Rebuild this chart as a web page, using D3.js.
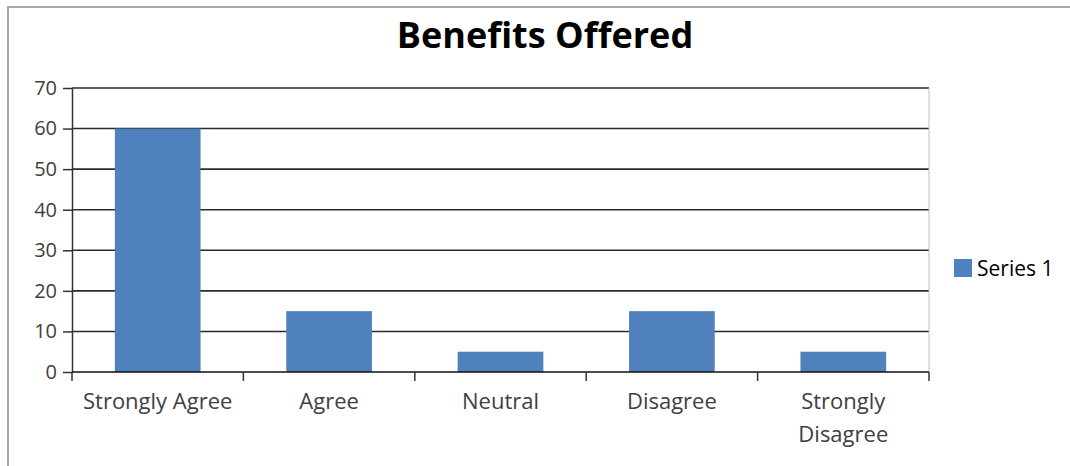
<!DOCTYPE html>
<html>
<head>
<meta charset="utf-8">
<script src="https://cdn.jsdelivr.net/npm/d3@7"></script>
<style>
  html, body { margin: 0; padding: 0; background: #fff; }
  svg { display: block; }
  text { font-family: "Open Sans", "Noto Sans", sans-serif; }
</style>
</head>
<body>
<svg id="chart" width="1070" height="466"></svg>
<script>
const title = "Benefits Offered";
const categories = ["Strongly Agree", "Agree", "Neutral", "Disagree", "Strongly Disagree"];
const seriesName = "Series 1";
const values = [60, 15, 5, 15, 5];
const yTicks = [0, 10, 20, 30, 40, 50, 60, 70];

const W = 1070, H = 466;
const margin = { left: 72, top: 88, right: 141, bottom: 94 };
const innerW = W - margin.left - margin.right;
const innerH = H - margin.top - margin.bottom;
const barColor = "#4F81BD";
const textColor = "#404040";

const svg = d3.select("#chart");

// outer frame
svg.append("path")
  .attr("d", `M8,${H} L8,7 L${W},7`)
  .attr("fill", "none")
  .attr("stroke", "#a6a6a6")
  .attr("stroke-width", 2);

svg.append("text")
  .attr("x", 545).attr("y", 48)
  .attr("text-anchor", "middle")
  .attr("font-size", 36)
  .attr("font-weight", "bold")
  .attr("fill", "#000")
  .text(title);

const g = svg.append("g").attr("transform", `translate(${margin.left},${margin.top})`);

const x = d3.scaleBand().domain(categories).range([0, innerW]).paddingInner(0.5).paddingOuter(0.25);
const xb = d3.scaleBand().domain(categories).range([0, innerW]);
const y = d3.scaleLinear().domain([0, 70]).range([innerH, 0]);

// gridlines
g.append("g").selectAll("line").data(yTicks.filter(d => d > 0)).join("line")
  .attr("x1", 0).attr("x2", innerW)
  .attr("y1", d => y(d)).attr("y2", d => y(d))
  .attr("stroke", "#2b2b2b").attr("stroke-width", 1.6);

// right plot border
g.append("line")
  .attr("x1", innerW).attr("x2", innerW).attr("y1", 0).attr("y2", innerH)
  .attr("stroke", "#bfbfbf").attr("stroke-width", 1);

// bars
g.append("g").selectAll("rect").data(values).join("rect")
  .attr("x", (d, i) => x(categories[i]))
  .attr("y", d => y(d))
  .attr("width", x.bandwidth())
  .attr("height", d => innerH - y(d))
  .attr("fill", barColor);

// y axis
const yAxis = g.append("g")
  .call(d3.axisLeft(y).tickValues(yTicks).tickSize(9).tickPadding(6).tickSizeOuter(0));
yAxis.select(".domain").attr("stroke", "#333").attr("stroke-width", 1.5);
yAxis.selectAll(".tick line").attr("stroke", "#333").attr("stroke-width", 1.5);
yAxis.selectAll(".tick text").attr("font-size", 20).attr("fill", textColor)
  .attr("font-family", "Open Sans, sans-serif");

// x axis (category boundaries as ticks)
const xAxisG = g.append("g").attr("transform", `translate(0,${innerH})`);
xAxisG.append("line").attr("x1", 0).attr("x2", innerW).attr("y1", 0).attr("y2", 0)
  .attr("stroke", "#111").attr("stroke-width", 1.6);
const bounds = categories.map(c => xb(c)).concat([innerW]);
xAxisG.selectAll("line.tk").data(bounds).join("line").attr("class", "tk")
  .attr("x1", d => d).attr("x2", d => d).attr("y1", 0).attr("y2", 9)
  .attr("stroke", "#333").attr("stroke-width", 1.5);

const labels = xAxisG.selectAll("text.lbl").data(categories).join("text").attr("class", "lbl")
  .attr("x", d => xb(d) + xb.bandwidth() / 2)
  .attr("y", 37)
  .attr("text-anchor", "middle")
  .attr("font-size", 22)
  .attr("fill", textColor)
  .text(d => d);

// wrap labels wider than the category band
labels.each(function(d) {
  const t = d3.select(this);
  if (this.getComputedTextLength() > xb.bandwidth() * 0.95) {
    const words = d.split(" ");
    const cx = +t.attr("x");
    t.text(null);
    words.forEach((w, i) => {
      t.append("tspan").attr("x", cx).attr("dy", i === 0 ? 0 : 33).text(w);
    });
  }
});

// legend
const lg = svg.append("g").attr("transform", "translate(954,259)");
lg.append("rect").attr("width", 18).attr("height", 18).attr("fill", barColor);
lg.append("text").attr("x", 23).attr("y", 17).attr("font-size", 21).attr("fill", "#000").text(seriesName);
</script>
</body>
</html>
